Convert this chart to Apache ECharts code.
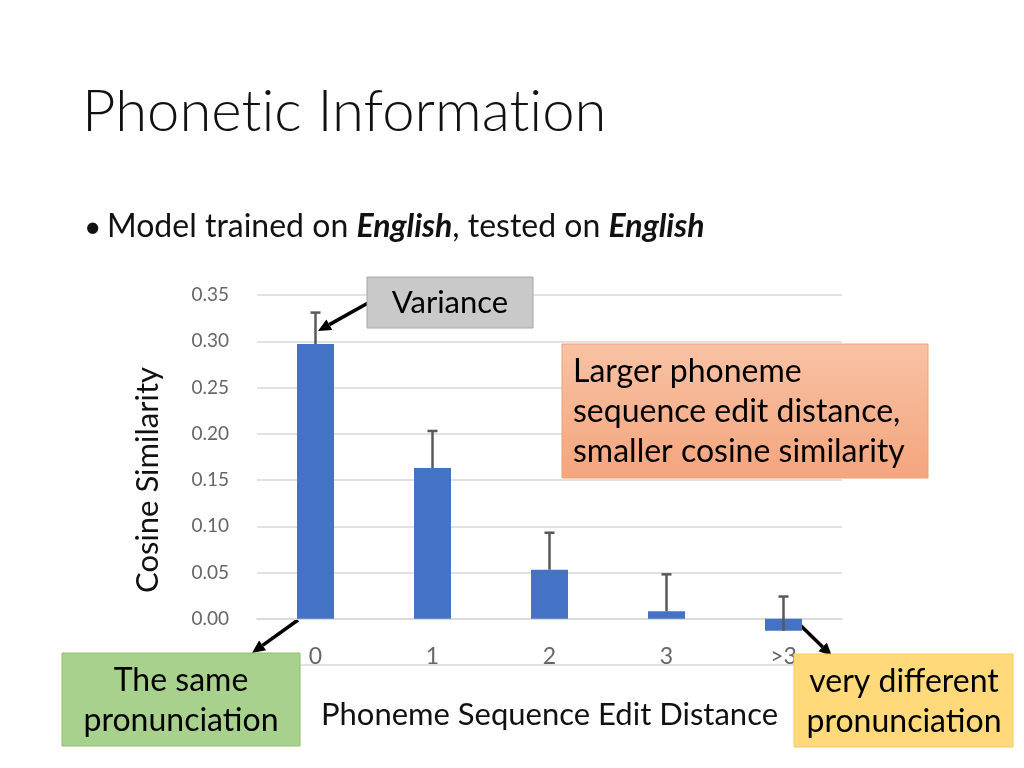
<!DOCTYPE html>
<html>
<head>
<meta charset="utf-8">
<title>Phonetic Information</title>
<script src="https://cdn.jsdelivr.net/npm/echarts@6/dist/echarts.min.js"></script>
<style>
  html, body { margin: 0; padding: 0; background: #fff; }
  #main { width: 1024px; height: 768px; }
</style>
</head>
<body>
<div id="main"></div>
<script>
const categories = ['0', '1', '2', '3', '>3']
const similarity = [0.297, 0.163, 0.053, 0.008, -0.013]
const varianceTop = [0.331, 0.203, 0.093, 0.048, 0.024]
const yTicks = { min: -0.05, max: 0.35, interval: 0.05 }

const FONT = 'Lato, "Open Sans", sans-serif'
const barColor = '#4472c4'
// zero-width non-joiner, keeps Lato from making its "ti" ligature
const ZW = '\u200C'

// arrow = line + little filled head at (x2, y2)
const arrow = (x1, y1, x2, y2) => {
  const ang = Math.atan2(y2 - y1, x2 - x1)
  const len = 13
  const half = 6
  const bx = x2 - len * Math.cos(ang)
  const by = y2 - len * Math.sin(ang)
  const px = -Math.sin(ang) * half
  const py = Math.cos(ang) * half
  return {
    type: 'group',
    z: 100,
    children: [
      {
        type: 'line',
        shape: { x1: x1, y1: y1, x2: bx, y2: by },
        style: { stroke: '#000', lineWidth: 3.5 },
      },
      {
        type: 'polygon',
        shape: { points: [[x2, y2], [bx + px, by + py], [bx - px, by - py]] },
        style: { fill: '#000' },
      },
    ],
  }
}

const box = (x, y, w, h, fill, stroke) => ({
  type: 'rect',
  z: 90,
  shape: { x: x, y: y, width: w, height: h },
  style: { fill: fill, stroke: stroke, lineWidth: 1 },
})

const label = (x, y, text, align, size) => ({
  type: 'text',
  z: 95,
  x: x,
  y: y,
  style: {
    text: text,
    fill: '#000',
    font: (size || 32) + 'px ' + FONT,
    align: align || 'center',
    verticalAlign: 'middle',
    lineHeight: 40,
  },
})

const chart = echarts.init(document.getElementById('main'))

chart.setOption({
  backgroundColor: '#fff',
  animation: false,
  grid: {
    left: 257,
    right: 182,
    top: 295,
    bottom: 103,
    outerBoundsMode: 'none',
  },
  xAxis: {
    type: 'category',
    data: categories,
    // category axis sits on the 0 line (one tick above the bottom)
    offset: -46,
    name: 'Phoneme Sequence Edit Distance',
    nameLocation: 'middle',
    nameGap: 80,
    nameTextStyle: { fontFamily: FONT, fontSize: 31, color: '#111' },
    axisLine: { onZero: false, lineStyle: { color: '#d9d9d9', width: 1.5 } },
    axisTick: { show: false },
    axisLabel: {
      margin: 26,
      fontFamily: FONT,
      fontSize: 23,
      color: '#666',
    },
  },
  yAxis: {
    type: 'value',
    min: yTicks.min,
    max: yTicks.max,
    interval: yTicks.interval,
    name: 'Cosine Similarity',
    nameLocation: 'middle',
    nameRotate: 90,
    nameGap: 94,
    nameTextStyle: { fontFamily: FONT, fontSize: 31, color: '#111' },
    axisLine: { show: false },
    axisTick: { show: false },
    axisLabel: {
      margin: 28,
      fontFamily: FONT,
      fontSize: 19,
      color: '#666',
      formatter: v => v.toFixed(2),
    },
    splitLine: { lineStyle: { color: '#d9d9d9', width: 1.5 } },
  },
  series: [
    {
      type: 'bar',
      data: similarity,
      barWidth: 37,
      itemStyle: { color: barColor },
    },
    {
      // variance whiskers, upper side only
      type: 'custom',
      z: 5,
      data: categories.map((c, i) => [i, similarity[i], varianceTop[i]]),
      renderItem: (params, api) => {
        const low = api.coord([api.value(0), api.value(1)])
        const high = api.coord([api.value(0), api.value(2)])
        const cap = 5
        const st = { stroke: '#595959', lineWidth: 2.5 }
        return {
          type: 'group',
          children: [
            { type: 'line', shape: { x1: low[0], y1: low[1], x2: high[0], y2: high[1] }, style: st },
            { type: 'line', shape: { x1: high[0] - cap, y1: high[1], x2: high[0] + cap, y2: high[1] }, style: st },
          ],
        }
      },
    },
  ],
  graphic: [
    {
      type: 'text',
      x: 82,
      y: 112,
      style: {
        text: 'Phonet' + ZW + 'ic Informat' + ZW + 'ion',
        font: '300 58px ' + FONT,
        fill: '#111',
        verticalAlign: 'middle',
      },
    },
    {
      type: 'text',
      x: 84,
      y: 227,
      style: { text: '•', font: '30px ' + FONT, fill: '#111', verticalAlign: 'middle' },
    },
    {
      type: 'text',
      x: 107,
      y: 227,
      style: {
        text: 'Model trained on {b|English}, tested on {b|English}',
        font: '32px ' + FONT,
        fill: '#111',
        verticalAlign: 'middle',
        rich: {
          b: { fontFamily: FONT, fontSize: 32, fontWeight: 'bold', fontStyle: 'italic', fill: '#111' },
        },
      },
    },
    // Variance
    box(367, 277, 166, 51, '#c9c9c9', '#a6a6a6'),
    label(450, 303, 'Variance', 'center', 31),
    arrow(368, 303, 318, 331),
    // orange note
    {
      type: 'rect',
      z: 90,
      shape: { x: 562, y: 344, width: 366, height: 134 },
      style: {
        fill: new echarts.graphic.LinearGradient(0, 0, 0, 1, [
          { offset: 0, color: '#f8c2a4' },
          { offset: 1, color: '#f4a57e' },
        ]),
        stroke: '#f0a070',
        lineWidth: 1,
      },
    },
    label(573, 412, 'Larger phoneme\nsequence edit distance,\nsmaller cosine similarity', 'left', 32),
    // green note
    box(62, 653, 238, 93, '#a9d18e', '#8cbf6c'),
    label(181, 701, 'The same\npronunciation', 'center', 32),
    arrow(298, 620, 252, 653),
    // yellow note
    box(794, 654, 219, 93, '#ffd97a', '#f8c860'),
    label(904, 702, 'very different\npronunciation', 'center', 32),
    arrow(795, 620, 832, 656),
  ],
})
</script>
</body>
</html>
